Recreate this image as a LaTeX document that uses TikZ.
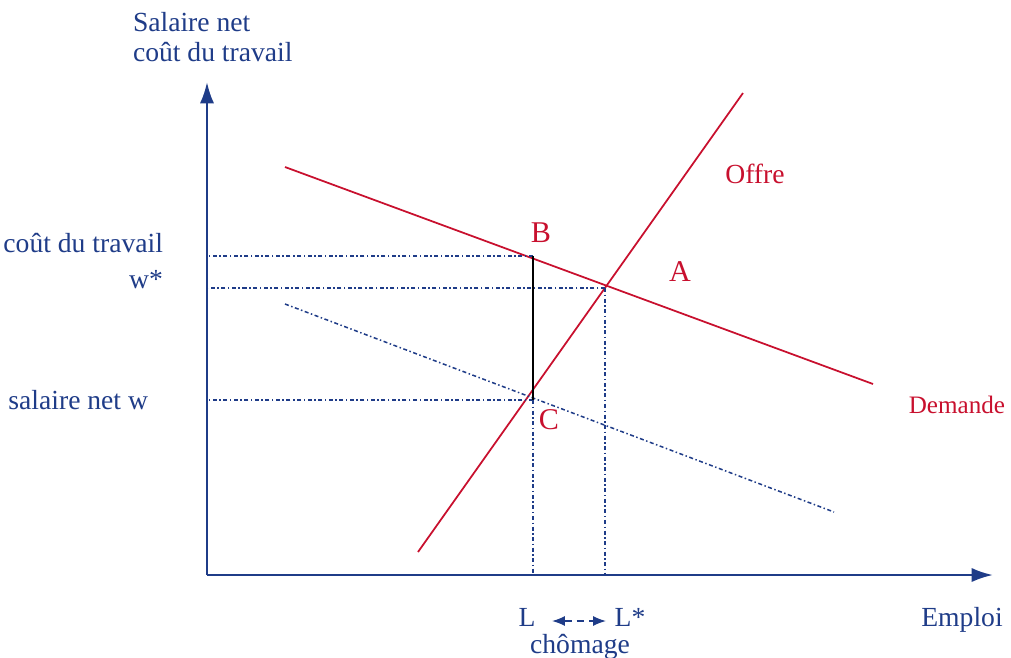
\documentclass[tikz,border=0pt]{standalone}
\usepackage{fontspec}
\setmainfont{Liberation Serif}
\usepackage{xcolor}
\usepackage{tikz}
\usetikzlibrary{arrows.meta,positioning,calc}
\definecolor{axisblue}{HTML}{1F3C88}
\definecolor{curvered}{HTML}{C8102E}

\begin{document}
\begin{tikzpicture}[
  x=0.14mm, y=-0.14mm,
  axis/.style={draw=axisblue, line width=1pt, -{Latex[length=3mm,width=2mm]}},
  curve/.style={draw=curvered, line width=0.7pt},
  guide/.style={draw=axisblue, line width=0.6pt, dash pattern=on 1.6pt off 1pt on 0.6pt off 1pt},
  gap/.style={draw=black, line width=1pt},
  span/.style={draw=axisblue, line width=0.6pt, densely dashed, {Latex[length=1.8mm,width=1.4mm]}-{Latex[length=1.8mm,width=1.4mm]}},
  lbl/.style={text=axisblue, font=\fontsize{11}{12}\selectfont, inner sep=1pt},
  pt/.style={text=curvered, font=\fontsize{12}{14}\selectfont, inner sep=1pt}
]
  \useasboundingbox (0,0) rectangle (1011,657);

  % axes
  \coordinate (O) at (207,575);
  \coordinate (ytop) at (207,82);
  \coordinate (xend) at (993,575);
  \draw[axis] (O) -- (ytop);
  \draw[axis] (O) -- (xend);

  % curves
  \coordinate (d1) at (285,167);
  \coordinate (d2) at (873,384);
  \coordinate (s1) at (418,552);
  \coordinate (s2) at (743,93);
  \coordinate (n1) at (285,304);
  \coordinate (n2) at (834,512);
  \draw[curve] (d1) -- (d2);
  \draw[curve] (s1) -- (s2);
  \draw[guide] (n1) -- (n2);

  % points
  \coordinate (pA) at (605,288);
  \coordinate (pB) at (533,256);
  \coordinate (pC) at (533,400);
  \draw[guide] (pB) -- (pB -| O);
  \draw[guide] (pA) -- (pA -| O);
  \draw[guide] (pC) -- (pC -| O);
  \draw[guide] (pC) -- (pC |- O);
  \draw[guide] (pA) -- (pA |- O);
  \draw[gap] (pB) -- (pC);

  % labels
  \node[lbl, anchor=west, align=left] (ytitle) at (130,37) {Salaire net\\coût du travail};
  \node[lbl, anchor=east] (cout) at (166,243) {coût du travail};
  \node[lbl, anchor=east] (wstar) at (166,280) {w*};
  \node[lbl, anchor=east] (wnet) at (151,400) {salaire net w};
  \node[pt] (lA) at (680,272) {A};
  \node[pt] (lB) at (541,233) {B};
  \node[pt] (lC) at (549,420) {C};
  \node[pt, font=\fontsize{11}{12}\selectfont] (offre) at (755,174) {Offre};
  \node[pt, anchor=east, font=\fontsize{10}{12}\selectfont] (demande) at (1008,405) {Demande};
  \node[lbl] (L) at (527,617) {L};
  \node[lbl] (Lstar) at (630,617) {L*};
  \node[lbl] (chom) at (580,647) {chômage};
  \node[lbl] (emploi) at (962,620) {Emploi};
  \coordinate (sp1) at (552,621);
  \coordinate (sp2) at (606,621);
  \draw[span] (sp1) -- (sp2);
\end{tikzpicture}
\end{document}
